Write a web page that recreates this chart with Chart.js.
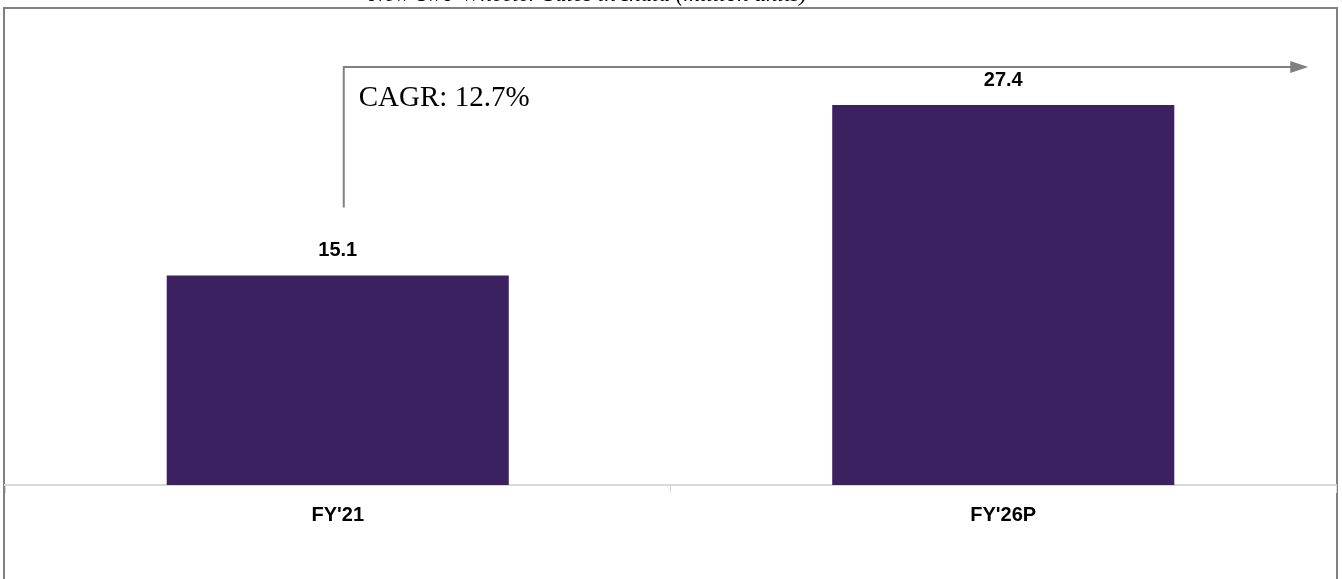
<!DOCTYPE html>
<html>
<head>
<meta charset="utf-8">
<title>New Two-Wheeler Sales in India</title>
<script src="https://cdn.jsdelivr.net/npm/chart.js@4.4.1/dist/chart.umd.min.js"></script>
<style>
  html, body { margin: 0; padding: 0; background: #fff; }
  #wrap { position: relative; width: 1342px; height: 579px; overflow: hidden; }
</style>
</head>
<body>
<div id="wrap"><canvas id="salesChart" width="1342" height="579"></canvas></div>
<script>
/* ── DATA ─────────────────────────────────────────────── */
const categories = ["FY'21", "FY'26P"];
const salesMillion = [15.1, 27.4];
const chartTitle = 'New Two-Wheeler Sales in India (million units)';
const cagrLabel = 'CAGR: 12.7%';

const BAR_COLOR = '#3c2160';
const FRAME_GREY = '#808080';

/* ── PLUGINS ──────────────────────────────────────────── */
// outer frame + clipped title on top
const framePlugin = {
  id: 'frame',
  beforeDraw(chart) {
    const ctx = chart.ctx;
    ctx.save();
    ctx.strokeStyle = FRAME_GREY;
    ctx.lineWidth = 2;
    ctx.strokeRect(4, 8, 1333, 700);
    ctx.fillStyle = '#000';
    ctx.font = 'italic 23px "Liberation Serif", "Times New Roman", serif';
    ctx.textAlign = 'center';
    ctx.textBaseline = 'alphabetic';
    ctx.fillText(chartTitle, 588, 1);
    ctx.restore();
  }
};

// value labels above bars
const valueLabels = {
  id: 'valueLabels',
  afterDatasetsDraw(chart) {
    const ctx = chart.ctx;
    const meta = chart.getDatasetMeta(0);
    ctx.save();
    ctx.fillStyle = '#000';
    ctx.font = 'bold 20px "Liberation Sans", Arial, sans-serif';
    ctx.textAlign = 'center';
    ctx.textBaseline = 'bottom';
    meta.data.forEach((bar, i) => {
      ctx.fillText(salesMillion[i].toFixed(1), bar.x, bar.y - 15);
    });
    ctx.restore();
  }
};

// CAGR bracket arrow from first bar to last bar
const cagrArrow = {
  id: 'cagrArrow',
  afterDatasetsDraw(chart) {
    const ctx = chart.ctx;
    const meta = chart.getDatasetMeta(0);
    const first = meta.data[0];
    const last = meta.data[meta.data.length - 1];
    const x0 = first.x + 6;
    const yLow = first.y - 68;
    const yTop = 67;
    const xEnd = last.x + 305;
    ctx.save();
    ctx.strokeStyle = FRAME_GREY;
    ctx.fillStyle = FRAME_GREY;
    ctx.lineWidth = 2;
    ctx.beginPath();
    ctx.moveTo(x0, yLow);
    ctx.lineTo(x0, yTop);
    ctx.lineTo(xEnd - 16, yTop);
    ctx.stroke();
    ctx.beginPath();
    ctx.moveTo(xEnd, yTop);
    ctx.lineTo(xEnd - 18, yTop - 6);
    ctx.lineTo(xEnd - 18, yTop + 6);
    ctx.closePath();
    ctx.fill();
    ctx.fillStyle = '#000';
    ctx.font = '29px "Liberation Serif", "Times New Roman", serif';
    ctx.textAlign = 'left';
    ctx.textBaseline = 'alphabetic';
    ctx.fillText(cagrLabel, x0 + 15, 106);
    ctx.restore();
  }
};

/* ── CHART ────────────────────────────────────────────── */
new Chart(document.getElementById('salesChart'), {
  type: 'bar',
  data: {
    labels: categories,
    datasets: [{
      data: salesMillion,
      backgroundColor: BAR_COLOR,
      borderWidth: 0,
      categoryPercentage: 1,
      barPercentage: 0.514,
    }],
  },
  options: {
    responsive: false,
    animation: false,
    layout: { padding: { left: 5, right: 6, top: 69, bottom: 0 } },
    plugins: {
      legend: { display: false },
      tooltip: { enabled: false },
      title: { display: false },
    },
    scales: {
      x: {
        grid: {
          display: true,
          drawOnChartArea: false,
          drawTicks: true,
          tickLength: 8,
          color: '#d9d9d9',
          lineWidth: 1,
        },
        border: { display: true, color: '#d9d9d9', width: 2 },
        ticks: {
          color: '#000',
          padding: 10,
          font: { size: 20, weight: 'bold', family: '"Liberation Sans", Arial, sans-serif' },
        },
        afterFit: scale => { scale.height = 94; },
      },
      y: {
        display: false,
        min: 0,
        max: 30,
      },
    },
  },
  plugins: [framePlugin, valueLabels, cagrArrow],
});
</script>
</body>
</html>
